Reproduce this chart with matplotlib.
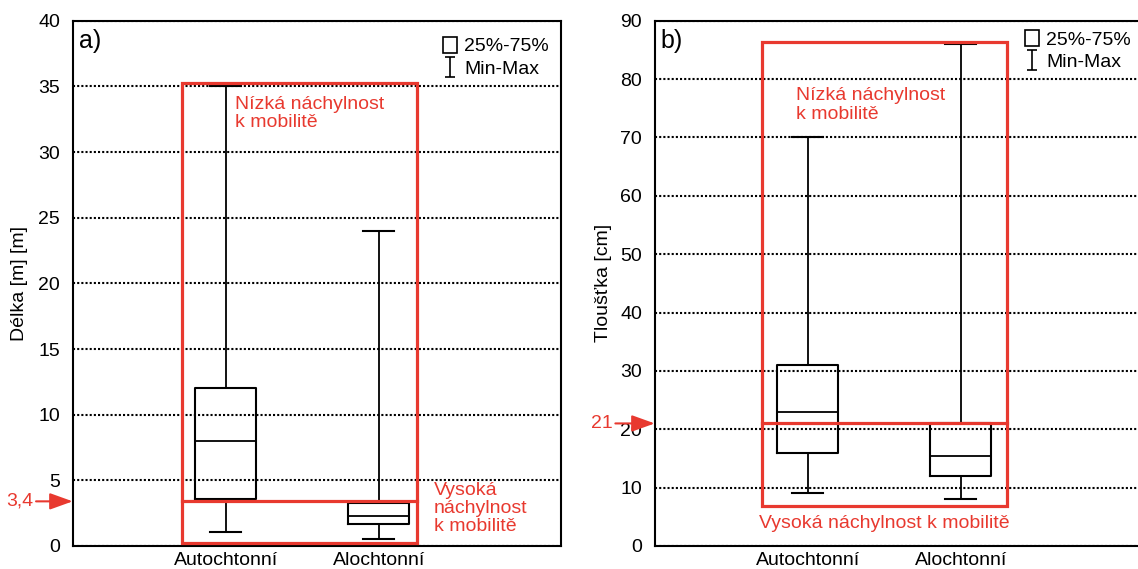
import matplotlib.pyplot as plt
import numpy as np
from matplotlib.patches import Rectangle, Patch
from matplotlib.lines import Line2D
from matplotlib.path import Path

plt.rcParams['font.family'] = ['Liberation Sans', 'DejaVu Sans']
plt.rcParams['font.size'] = 14

# box statistics
categories = ['Autochtonní', 'Alochtonní']

delka_min = [1.1, 0.5]
delka_q1 = [3.6, 1.7]
delka_med = [8.0, 2.3]
delka_q3 = [12.0, 3.3]
delka_max = [35.0, 24.0]
delka_limit = 3.4

tloustka_min = [9.0, 8.0]
tloustka_q1 = [16.0, 12.0]
tloustka_med = [23.0, 15.5]
tloustka_q3 = [31.0, 21.0]
tloustka_max = [70.0, 86.0]
tloustka_limit = 21

red = '#e8392f'

# I-shaped marker for the Min-Max legend entry
iPath = Path([(-0.5, 1), (0.5, 1), (0, 1), (0, -1), (-0.5, -1), (0.5, -1)],
             [Path.MOVETO, Path.LINETO, Path.MOVETO, Path.LINETO, Path.MOVETO, Path.LINETO])


def drawPanel(ax, mins, q1s, meds, q3s, maxs, ymax, step, ylabel, letter, legendAnchor):
    stats = []
    for i in range(len(categories)):
        stats.append(dict(med=meds[i], q1=q1s[i], q3=q3s[i],
                          whislo=mins[i], whishi=maxs[i], fliers=[]))
    pos = np.arange(1, len(categories) + 1)
    ax.bxp(stats, positions=pos, widths=0.4, capwidths=0.2, showfliers=False,
           boxprops=dict(color='black', lw=1.5),
           whiskerprops=dict(color='black', lw=1.3),
           capprops=dict(color='black', lw=1.5),
           medianprops=dict(color='black', lw=1.3))
    ax.set_xticks(pos)
    ax.set_xticklabels(categories)
    ax.set_xlim(0, 3.19)
    ax.set_ylim(0, ymax)
    ax.set_yticks(np.arange(0, ymax + 1, step))
    ax.yaxis.grid(True, linestyle=(0, (1, 1)), color='black', lw=1.5)
    ax.set_axisbelow(True)
    ax.set_ylabel(ylabel, fontsize=14)
    ax.tick_params(axis='x', length=0, pad=4)
    ax.tick_params(axis='y', length=0, pad=9)
    for s in ax.spines.values():
        s.set_linewidth(1.5)
    ax.text(0.012, 0.985, letter, transform=ax.transAxes, fontsize=18,
            ha='left', va='top')
    handles = [Patch(facecolor='white', edgecolor='black', lw=1.2),
               Line2D([], [], color='black', marker=iPath, markersize=14,
                      linestyle='none', markeredgewidth=1.2)]
    ax.legend(handles, ['25%-75%', 'Min-Max'], loc='upper right', frameon=False,
              bbox_to_anchor=legendAnchor,
              handlelength=0.75, handleheight=0.9, handletextpad=0.35,
              labelspacing=0.2, borderaxespad=0.3, borderpad=0.3, fontsize=14)


fig = plt.figure(figsize=(11.38, 5.69), dpi=100)
arrowStyle = '-|>,head_length=1.0,head_width=0.36'

# panel a)
axA = fig.add_axes([72.7 / 1138, 1 - 546 / 569, 488 / 1138, 525.3 / 569])
drawPanel(axA, delka_min, delka_q1, delka_med, delka_q3, delka_max,
          40, 5, 'Délka [m] [m]', 'a)', (1.0, 0.992))
axA.add_patch(Rectangle((0.714, 0.25), 2.25 - 0.714, 35.25 - 0.25, fill=False,
                        edgecolor=red, lw=2.3, zorder=5))
axA.plot([0.714, 2.25], [delka_limit, delka_limit], color=red, lw=2.3, zorder=5)
axA.text(1.06, 34.3, 'Nízká náchylnost\nk mobilitě', color=red, fontsize=14,
         va='top', ha='left', linespacing=1.1)
axA.text(2.36, 4.9, 'Vysoká\nnáchylnost\nk mobilitě', color=red, fontsize=14,
         va='top', ha='left', linespacing=1.1)
axA.annotate('3,4', xy=(0, delka_limit), xycoords=axA.get_yaxis_transform(),
             xytext=(-53, 0), textcoords='offset pixels', ha='center', va='center',
             color=red, fontsize=14, annotation_clip=False,
             arrowprops=dict(arrowstyle=arrowStyle, color=red, lw=1.5,
                             shrinkA=0, shrinkB=0))
axA.yaxis.set_label_coords(-0.092, 0.5)

# panel b)
axB = fig.add_axes([654.7 / 1138, 1 - 546 / 569, 488 / 1138, 525.3 / 569])
drawPanel(axB, tloustka_min, tloustka_q1, tloustka_med, tloustka_q3, tloustka_max,
          90, 10, 'Tloušťka [cm]', 'b)', (1.0, 1.005))
axB.add_patch(Rectangle((0.70, 6.86), 2.30 - 0.70, 86.3 - 6.86, fill=False,
                        edgecolor=red, lw=2.3, zorder=5))
axB.plot([0.70, 2.30], [tloustka_limit, tloustka_limit], color=red, lw=2.3, zorder=5)
axB.text(0.926, 78.6, 'Nízká náchylnost\nk mobilitě', color=red, fontsize=14,
         va='top', ha='left', linespacing=1.1)
axB.text(1.5, 3.9, 'Vysoká náchylnost k mobilitě', color=red, fontsize=14,
         va='center', ha='center')
axB.annotate('21', xy=(0, tloustka_limit), xycoords=axB.get_yaxis_transform(),
             xytext=(-53, 0), textcoords='offset pixels', ha='center', va='center',
             color=red, fontsize=14, annotation_clip=False, zorder=6,
             arrowprops=dict(arrowstyle=arrowStyle, color=red, lw=1.5,
                             shrinkA=0, shrinkB=0))
axB.yaxis.set_label_coords(-0.0875, 0.5)

fig.savefig('out.png', dpi=100)
